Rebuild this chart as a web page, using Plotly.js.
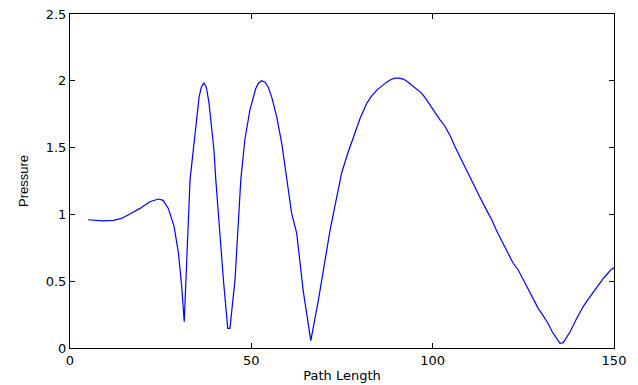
<!DOCTYPE html>
<html>
<head>
<meta charset="utf-8">
<script src="https://cdn.plot.ly/plotly-3.0.1.min.js"></script>
<style>html,body{margin:0;padding:0;background:#fff;}#chart{width:638px;height:385px;}</style>
</head>
<body>
<div id="chart"></div>
<script>
var pathLength = [5, 7, 9, 12, 14.2, 17, 19.3, 22, 24.4, 25.7, 27.1, 28.7, 29.9, 30.8, 31.5,
  33.1, 34.2, 35.0, 35.6, 36.2, 36.9, 37.6, 38.3, 39.7, 40.2, 42.3, 43.5, 44.1, 45.5, 47.1, 48.2, 49.6,
  50.3, 51.2, 51.9, 52.8, 53.8, 54.7, 55.6, 57, 58.4, 59.7, 61.1, 62.5, 64.3, 66.4, 68.5, 71.7, 74.4, 74.9,
  76.5, 78.1, 80, 81.8, 83, 84.6, 86, 87.3, 88.5, 89.6, 90.7, 91.9, 93, 94.2, 95.5, 97, 98, 99.2, 100.5,
  102, 103.4, 105, 106.1, 108.4, 110, 111.2, 113, 114.9, 116.3, 117.6, 120, 122.2, 123.6, 125.9, 127.5,
  129.1, 130.5, 131.9, 133, 134.2, 135.1, 136, 137.9, 139.5, 141.5, 143, 144.3, 145.5, 147, 148, 149.3, 150];
var pressure = [0.96, 0.955, 0.952, 0.955, 0.97, 1.01, 1.045, 1.095, 1.115, 1.105, 1.045, 0.91, 0.71, 0.46, 0.197,
  1.26, 1.54, 1.75, 1.88, 1.95, 1.985, 1.95, 1.84, 1.48, 1.26, 0.51, 0.147, 0.147, 0.51, 1.26, 1.557, 1.78,
  1.86, 1.94, 1.98, 2.0, 1.99, 1.95, 1.88, 1.73, 1.53, 1.28, 1.01, 0.86, 0.43, 0.055, 0.36, 0.88, 1.26, 1.31,
  1.45, 1.58, 1.72, 1.83, 1.88, 1.93, 1.965, 1.99, 2.01, 2.02, 2.02, 2.013, 1.995, 1.97, 1.94, 1.906, 1.87, 1.82, 1.77,
  1.71, 1.66, 1.58, 1.51, 1.38, 1.3, 1.23, 1.13, 1.03, 0.96, 0.88, 0.75, 0.634, 0.584, 0.46, 0.38,
  0.297, 0.24, 0.18, 0.12, 0.072, 0.035, 0.04, 0.122, 0.21, 0.31, 0.37, 0.42, 0.47, 0.52, 0.55, 0.59, 0.6];
var xTicks = [0, 50, 100, 150];
var yTicks = [0, 0.5, 1, 1.5, 2, 2.5];
var yTickText = ['0', '0.5', '1', '1.5', '2', '2.5'];

var font = {family: 'DejaVu Sans, Liberation Sans, Arial, sans-serif', size: 13, color: '#000'};
var yTitleFont = {family: 'Liberation Sans, Arial, sans-serif', size: 13, color: '#000'};
var axisCommon = {
  showline: true, linecolor: '#000', linewidth: 1, mirror: 'ticks',
  ticks: 'inside', ticklen: 5, tickcolor: '#000', tickwidth: 1,
  showgrid: false, zeroline: false, tickfont: font
};
Plotly.newPlot('chart', [{
  x: pathLength, y: pressure, type: 'scatter', mode: 'lines',
  line: {color: '#0000ff', width: 1.2}, hoverinfo: 'none'
}], {
  width: 638, height: 385,
  margin: {l: 70, r: 24, t: 14, b: 37},
  paper_bgcolor: '#fff', plot_bgcolor: '#fff',
  showlegend: false, font: font,
  xaxis: Object.assign({}, axisCommon, {
    range: [0, 150], tickvals: xTicks, ticktext: xTicks.map(String),
    title: {text: 'Path Length', font: font, standoff: 4}
  }),
  yaxis: Object.assign({}, axisCommon, {
    range: [0, 2.5], tickvals: yTicks, ticktext: yTickText,
    title: {text: 'Pressure', font: yTitleFont, standoff: 14}
  })
}, {staticPlot: true});
</script>
</body>
</html>
